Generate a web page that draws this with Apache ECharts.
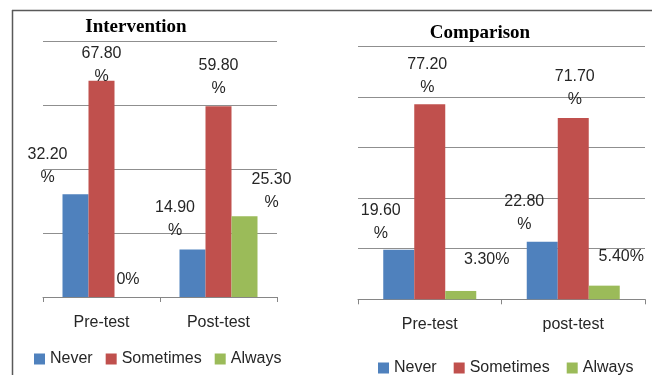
<!DOCTYPE html>
<html>
<head>
<meta charset="utf-8">
<script src="https://cdn.jsdelivr.net/npm/echarts@6/dist/echarts.min.js"></script>
<style>html,body{margin:0;padding:0;background:#fff;}#c{width:652px;height:375px;}</style>
</head>
<body>
<div id="c"></div>
<script>
// ---- data ----
const seriesNames = ['Never', 'Sometimes', 'Always'];
const interventionCategories = ['Pre-test', 'Post-test'];
const comparisonCategories = ['Pre-test', 'post-test'];
const interventionNever = [32.2, 14.9];
const interventionSometimes = [67.8, 59.8];
const interventionAlways = [0, 25.3];
const comparisonNever = [19.6, 22.8];
const comparisonSometimes = [77.2, 71.7];
const comparisonAlways = [3.3, 5.4];
const titles = ['Intervention', 'Comparison'];

// ---- styling ----
const colors = ['#4F81BD', '#C0504D', '#9BBB59'];
const FONT = 'Liberation Sans';
const txt = '#262626';

function fmt(v) {
  if (v === 0) return '0%';
  const s = v.toFixed(2);
  return v < 10 ? s + '%' : s + '\n%';
}
// label shifts (layout only)
const shiftsLeft = [
  [[-28, -5], [-17.5, -7]],
  [[0, 7], [0, -6]],
  [[0.5, -5.5], [27, -2]]
];
const shiftsRight = [
  [[-18, -4.4], [-18, -5.3]],
  [[-2.5, -5], [1.5, -6.6]],
  [[26, -19.5], [17, -17.5]]
];

function mkSeries(name, values, idx, axisIdx, shifts, bw) {
  return {
    type: 'bar', name: name, xAxisIndex: axisIdx, yAxisIndex: axisIdx,
    barWidth: bw, barGap: '0%',
    itemStyle: { color: colors[idx] },
    data: values.map((v, i) => ({
      value: v,
      label: { offset: shifts[idx][i] }
    })),
    label: {
      show: true, position: 'top', distance: 0,
      fontFamily: FONT, fontSize: 16, lineHeight: 23, color: txt, align: 'center',
      formatter: p => fmt(p.value)
    },
    emphasis: { disabled: true },
    animation: false
  };
}

const axisCommon = {
  axisLine: { lineStyle: { color: '#868686', width: 1 } },
  axisTick: { show: true, length: 5, lineStyle: { color: '#868686' } },
  axisLabel: { fontFamily: FONT, fontSize: 16, color: txt }
};

const option = {
  animation: false,
  title: [
    { text: titles[0], left: 131, top: 13, textAlign: 'center',
      textStyle: { fontFamily: 'Liberation Serif', fontWeight: 'bold', fontSize: 19, color: '#000' } },
    { text: titles[1], left: 475, top: 19, textAlign: 'center',
      textStyle: { fontFamily: 'Liberation Serif', fontWeight: 'bold', fontSize: 19, color: '#000' } }
  ],
  legend: [
    { left: 29, top: 346, itemWidth: 11, itemHeight: 11, itemGap: 13, icon: 'rect',
      data: seriesNames, textStyle: { fontFamily: FONT, fontSize: 16, color: txt },
      selectedMode: false },
    { left: 373, top: 355, itemWidth: 11, itemHeight: 11, itemGap: 17, icon: 'rect',
      data: seriesNames, textStyle: { fontFamily: FONT, fontSize: 16, color: txt },
      selectedMode: false }
  ],
  grid: [
    { left: 43, right: 375, top: 41.7, bottom: 78 },
    { left: 358, right: 7, top: 46.5, bottom: 75.7 }
  ],
  xAxis: [
    Object.assign({ type: 'category', gridIndex: 0, data: interventionCategories }, axisCommon,
      { axisLabel: Object.assign({}, axisCommon.axisLabel, { margin: 18 }) }),
    Object.assign({ type: 'category', gridIndex: 1, data: comparisonCategories }, axisCommon,
      { axisLabel: Object.assign({}, axisCommon.axisLabel, { margin: 17 }) })
  ],
  yAxis: [
    { type: 'value', gridIndex: 0, min: 0, max: 80, interval: 20,
      axisLabel: { show: false }, axisLine: { show: false }, axisTick: { show: false },
      splitLine: { lineStyle: { color: '#8f8f8f' } } },
    { type: 'value', gridIndex: 1, min: 0, max: 100, interval: 20,
      axisLabel: { show: false }, axisLine: { show: false }, axisTick: { show: false },
      splitLine: { lineStyle: { color: '#8f8f8f' } } }
  ],
  series: [
    mkSeries(seriesNames[0], interventionNever, 0, 0, shiftsLeft, 26),
    mkSeries(seriesNames[1], interventionSometimes, 1, 0, shiftsLeft, 26),
    mkSeries(seriesNames[2], interventionAlways, 2, 0, shiftsLeft, 26),
    mkSeries(seriesNames[0], comparisonNever, 0, 1, shiftsRight, 31),
    mkSeries(seriesNames[1], comparisonSometimes, 1, 1, shiftsRight, 31),
    mkSeries(seriesNames[2], comparisonAlways, 2, 1, shiftsRight, 31)
  ],
  graphic: [
    { type: 'line', shape: { x1: 12, y1: 10.5, x2: 652, y2: 10.5 }, style: { stroke: '#595959', lineWidth: 1.5 }, silent: true },
    { type: 'line', shape: { x1: 12.5, y1: 10, x2: 12.5, y2: 375 }, style: { stroke: '#595959', lineWidth: 1.5 }, silent: true }
  ]
};

const chart = echarts.init(document.getElementById('c'), null, { renderer: 'canvas' });
chart.setOption(option);
</script>
</body>
</html>
